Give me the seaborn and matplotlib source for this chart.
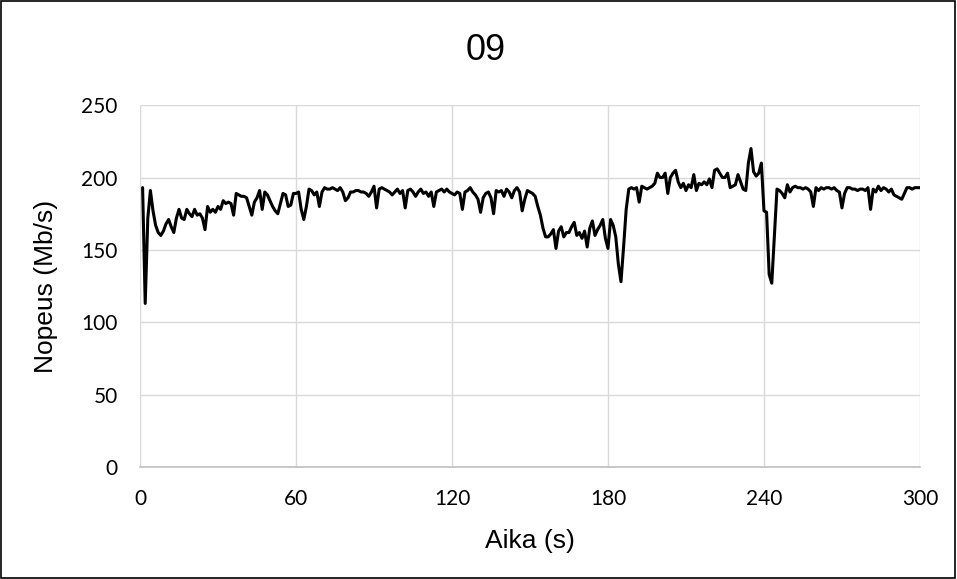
import numpy as np
import pandas as pd
import matplotlib
matplotlib.use("Agg")
import matplotlib.pyplot as plt
import seaborn as sns
from matplotlib.patches import Rectangle

# aika sekunteina ja nopeus (Mb/s), luettu kuvasta
aika = list(range(1, 301))
nopeus = [
    193, 113, 172, 191, 177, 167, 162, 160, 163, 168,
    171, 166, 162, 172, 178, 172, 171, 178, 175, 173,
    178, 174, 175, 172, 164, 180, 176, 178, 176, 180,
    178, 184, 182, 183, 182, 174, 189, 188, 187, 187,
    186, 180, 174, 183, 186, 191, 178, 190, 188, 184,
    180, 177, 175, 182, 189, 188, 180, 181, 189, 189,
    190, 178, 171, 180, 192, 191, 188, 190, 180, 190,
    193, 192, 192, 193, 192, 191, 193, 190, 184, 186,
    190, 190, 191, 191, 190, 190, 189, 187, 190, 194,
    179, 192, 193, 192, 191, 190, 188, 190, 192, 189,
    191, 179, 191, 192, 190, 187, 190, 192, 189, 190,
    187, 190, 180, 190, 191, 192, 190, 192, 190, 189,
    188, 190, 189, 178, 190, 191, 193, 190, 188, 185,
    176, 186, 189, 190, 186, 175, 191, 190, 191, 187,
    192, 190, 186, 191, 193, 190, 177, 185, 191, 190,
    189, 187, 180, 174, 165, 159, 159, 161, 164, 151,
    163, 166, 159, 162, 162, 166, 169, 160, 162, 158,
    163, 152, 165, 170, 160, 164, 167, 171, 158, 151,
    171, 167, 159, 140, 128, 152, 178, 192, 193, 192,
    193, 183, 194, 193, 192, 193, 194, 196, 203, 200,
    200, 203, 189, 200, 203, 205, 197, 193, 196, 191,
    195, 193, 202, 191, 196, 195, 197, 195, 199, 193,
    205, 206, 203, 200, 200, 203, 193, 194, 195, 202,
    197, 192, 191, 210, 220, 204, 201, 203, 210, 177,
    176, 133, 127, 160, 192, 191, 189, 186, 195, 190,
    193, 194, 193, 193, 192, 193, 192, 190, 180, 193,
    191, 193, 192, 193, 193, 192, 193, 191, 190, 179,
    189, 193, 193, 192, 192, 191, 192, 192, 191, 193,
    178, 192, 190, 194, 191, 193, 192, 190, 192, 188,
    187, 186, 185, 189, 193, 193, 192, 193, 193, 193,
]
x_ticks = [0, 60, 120, 180, 240, 300]
y_ticks = [0, 50, 100, 150, 200, 250]

sns.set_theme(style="whitegrid")
plt.rcParams["font.family"] = ["Liberation Sans", "DejaVu Sans"]

df = pd.DataFrame({"aika": aika, "nopeus": nopeus})

fig = plt.figure(figsize=(9.57, 5.79), dpi=100)
ax = fig.add_axes([0.1463, 0.1934, 0.815, 0.625])
sns.lineplot(data=df, x="aika", y="nopeus", ax=ax, color="black", linewidth=2.2)

ax.set_xlim(0, 300)
ax.set_ylim(0, 250)
ax.set_xticks(x_ticks)
ax.set_yticks(y_ticks)
ax.tick_params(axis="both", labelsize=15, colors="black", length=0)
ax.tick_params(axis="x", pad=16)
ax.tick_params(axis="y", pad=16)
for lab in ax.get_xticklabels() + ax.get_yticklabels():
    lab.set_family(["Lato", "DejaVu Sans"])
ax.grid(True, color="#d9d9d9", linewidth=1)
for s in ["left", "right", "top"]:
    ax.spines[s].set_visible(False)
ax.spines["bottom"].set_color("#bfbfbf")
ax.spines["bottom"].set_linewidth(1.2)

ax.set_xlabel("Aika (s)", fontsize=19, color="black", va="center")
ax.set_ylabel("Nopeus (Mb/s)", fontsize=19, color="black", va="center")
ax.xaxis.set_label_coords(0.5, -0.205)
ax.yaxis.set_label_coords(-0.12, 0.5)
fig.text(486 / 957, 1 - 51 / 579, "09", ha="center", va="center", fontsize=26, color="black")

fig.add_artist(Rectangle((0.001, 0.001), 0.997, 0.997, transform=fig.transFigure,
                         fill=False, edgecolor="black", linewidth=1.2))

fig.savefig("out.png", dpi=100)
